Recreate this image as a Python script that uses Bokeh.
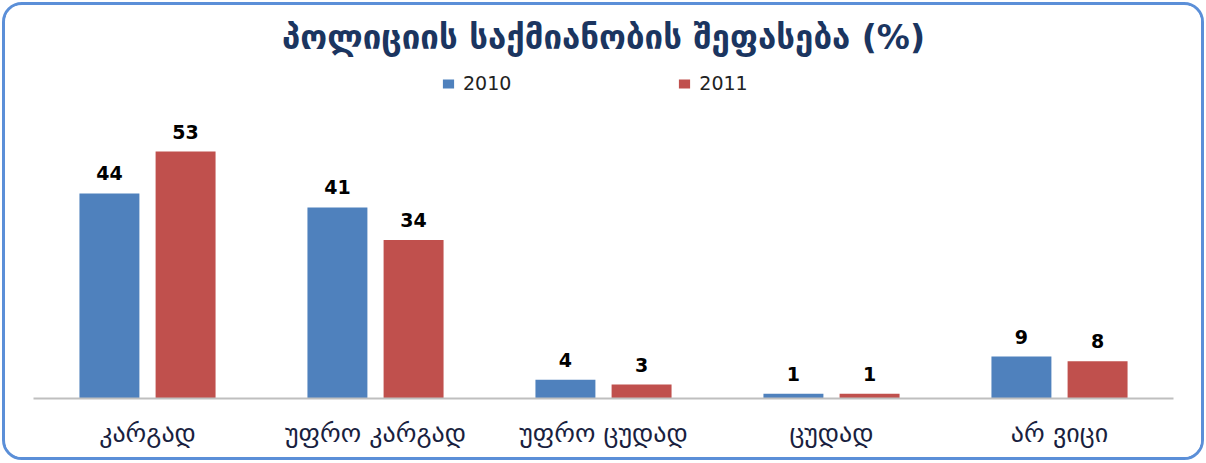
from bokeh.plotting import figure
from bokeh.models import FactorRange, Range1d, Label, Legend, LegendItem, ColumnDataSource
from bokeh.transform import dodge
from bokeh.embed import file_html
from bokeh.resources import INLINE
from bokeh.core.properties import value

title = "პოლიციის საქმიანობის შეფასება (%)"
categories = ["კარგად", "უფრო კარგად", "უფრო ცუდად", "ცუდად", "არ ვიცი"]
series = ["2010", "2011"]
values_2010 = [44, 41, 4, 1, 9]
values_2011 = [53, 34, 3, 1, 8]
colors = ["#4F81BD", "#C0504D"]

W, H = 1202, 458
p = figure(width=W, height=H, x_range=FactorRange(*categories, range_padding=0),
           y_range=Range1d(0, 393 / 4.66), output_backend="svg", toolbar_location=None,
           min_border_left=28, min_border_right=34, min_border_top=0, min_border_bottom=65,
           background_fill_color="white", border_fill_color="white", outline_line_color=None)
p.styles = {"position": "absolute", "left": "2px", "top": "2px",
            "border": "3px solid #5B8FD8", "border-radius": "20px", "overflow": "hidden"}

src = ColumnDataSource(dict(cat=categories, v2010=values_2010, v2011=values_2011,
                            l2010=[str(v) for v in values_2010], l2011=[str(v) for v in values_2011]))

offs = [-0.167, 0.167]
renderers = []
for s, col, off in zip(series, colors, offs):
    r = p.vbar(x=dodge("cat", off, range=p.x_range), top="v" + s, width=0.263, source=src,
               fill_color=col, line_color=None)
    renderers.append(r)
    p.text(x=dodge("cat", off, range=p.x_range), y="v" + s, text="l" + s, source=src,
           text_align="center", text_baseline="bottom", y_offset=-13,
           text_font=value("DejaVu Sans"), text_font_style="bold", text_font_size="19px",
           text_color="black")

p.xaxis.major_tick_line_color = None
p.xaxis.minor_tick_line_color = None
p.xaxis.axis_line_color = "#BFBFBF"
p.xaxis.axis_line_width = 2
p.xaxis.major_label_standoff = 13
p.xaxis.major_label_text_font = "DejaVu Sans"
p.xaxis.major_label_text_font_size = "26px"
p.xaxis.major_label_text_color = "#1a1f3f"
p.yaxis.visible = False
p.xgrid.grid_line_color = None
p.ygrid.grid_line_color = None

p.add_layout(Label(x=570, y=361, x_units="screen", y_units="screen", text=title,
                   text_align="center", text_baseline="middle", text_font="DejaVu Sans",
                   text_font_style="bold", text_font_size="33px", text_color="#1b3560"))

legend = Legend(items=[LegendItem(label=s, renderers=[r]) for s, r in zip(series, renderers)],
                orientation="horizontal", location=(408, 304), glyph_width=14, glyph_height=11,
                label_standoff=8, spacing=166, padding=0, margin=0, border_line_color=None,
                background_fill_alpha=0, label_text_font="DejaVu Sans", label_text_font_size="19px",
                label_text_color="#222222")
p.add_layout(legend)

open("out.html", "w").write(file_html(p, INLINE))
